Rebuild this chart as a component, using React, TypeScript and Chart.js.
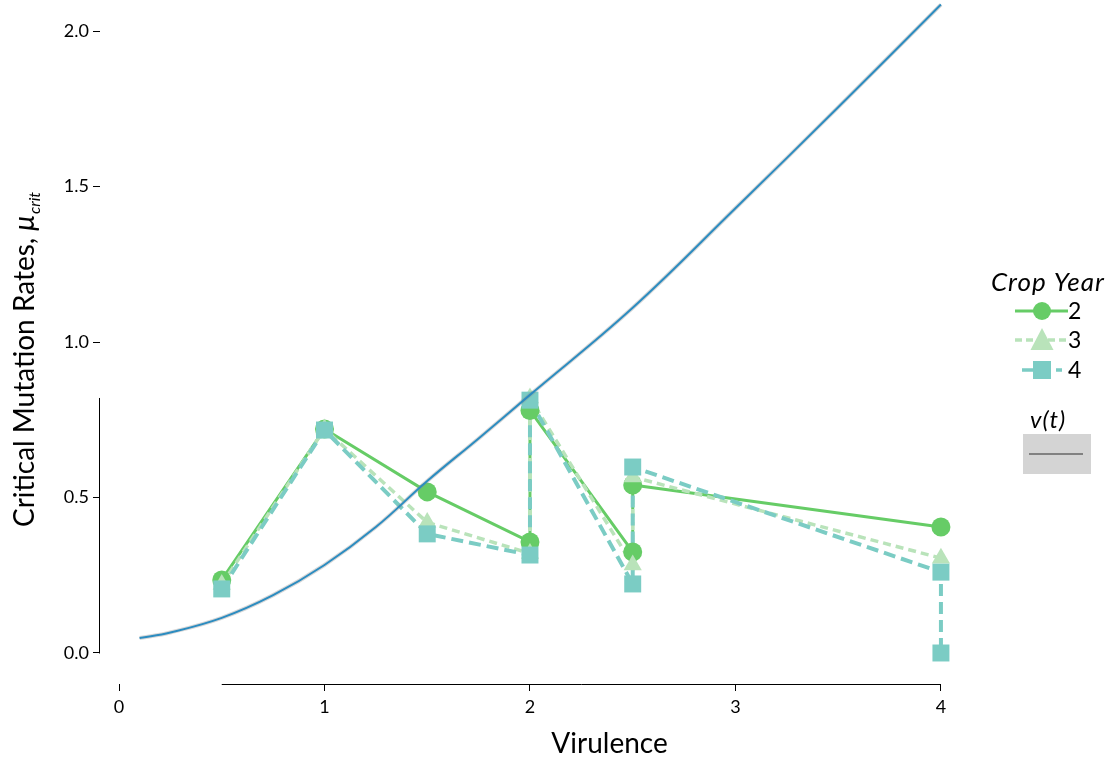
import React, { useEffect, useRef } from "react";
import { Chart, registerables } from "chart.js";

Chart.register(...registerables);

const FONT = "Lato, 'Open Sans', 'DejaVu Sans', sans-serif";

// ---- tick labels ----
const xTickValues = [0, 1, 2, 3, 4];
const xTickLabels = ["0", "1", "2", "3", "4"];
const yTickValues = [0, 0.5, 1, 1.5, 2];
const yTickLabels = ["0.0", "0.5", "1.0", "1.5", "2.0"];

// ---- series: crop years ----
const year2X = [0.5, 1, 1.5, 2, 2, 2.5, 2.5, 4];
const year2Y = [0.235, 0.72, 0.518, 0.357, 0.78, 0.325, 0.54, 0.405];
const year3X = [0.5, 1, 1.5, 2, 2, 2.5, 2.5, 4];
const year3Y = [0.22, 0.72, 0.42, 0.32, 0.82, 0.283, 0.566, 0.305];
const year4X = [0.5, 1, 1.5, 2, 2, 2.5, 2.5, 4, 4];
const year4Y = [0.206, 0.717, 0.383, 0.315, 0.813, 0.222, 0.598, 0.26, 0.0];

// ---- series: v(t) curve ----
const curveX = [0.1, 0.25, 0.5, 0.75, 1.0, 1.25, 1.5, 1.75, 2.0, 2.5, 3.0, 3.5, 4.0];
const curveY = [0.048, 0.066, 0.113, 0.186, 0.283, 0.405, 0.553, 0.69, 0.83, 1.11, 1.43, 1.755, 2.085];

// ---- texts ----
const legendYears = ["2", "3", "4"];
const legendTitle = "Crop Year";
const curveTitle = "v(t)";
const xTitle = "Virulence";
const yTitleMain = "Critical Mutation Rates, ";
const yTitleSymbol = "μ";
const yTitleSub = "crit";

const C2 = "#66cc66";
const C3 = "#b9e3ba";
const C4 = "#7bccc4";
const CURVE = "#2c8cc0";

const pts = (xs: number[], ys: number[]) => xs.map((x, i) => ({ x, y: ys[i] }));

const allX = [...year2X, ...year3X, ...year4X];
const allY = [...year2Y, ...year3Y, ...year4Y];

const overlayPlugin = {
  id: "overlay",
  afterDraw(chart: any) {
    const { ctx, scales } = chart;
    const xs = scales.x;
    const ys = scales.y;
    ctx.save();
    // range-frame axes
    ctx.strokeStyle = "#000";
    ctx.lineWidth = 1;
    ctx.setLineDash([]);
    const axX = Math.round(chart.chartArea.left) - 0.5;
    ctx.beginPath();
    ctx.moveTo(axX, ys.getPixelForValue(Math.max(...allY)));
    ctx.lineTo(axX, ys.getPixelForValue(Math.min(...allY)) + 0.5);
    ctx.stroke();
    const axY = Math.round(chart.chartArea.bottom) + 0.5;
    ctx.beginPath();
    ctx.moveTo(xs.getPixelForValue(Math.min(...allX)), axY);
    ctx.lineTo(xs.getPixelForValue(Math.max(...allX)), axY);
    ctx.stroke();

    // x title
    ctx.fillStyle = "#000";
    ctx.font = `28px ${FONT}`;
    ctx.textAlign = "center";
    ctx.textBaseline = "alphabetic";
    ctx.fillText(xTitle, 609.5, 753);

    // y title (rotated)
    ctx.save();
    ctx.translate(34, 360);
    ctx.rotate(-Math.PI / 2);
    ctx.textAlign = "left";
    ctx.font = `28px ${FONT}`;
    const wMain = ctx.measureText(yTitleMain).width;
    ctx.font = `italic 28px ${FONT}`;
    const wSym = ctx.measureText(yTitleSymbol).width;
    ctx.font = `italic 16px ${FONT}`;
    const wSub = ctx.measureText(yTitleSub).width;
    const start = -(wMain + wSym + wSub) / 2;
    ctx.font = `28px ${FONT}`;
    ctx.fillText(yTitleMain, start, 0);
    ctx.font = `italic 28px ${FONT}`;
    ctx.fillText(yTitleSymbol, start + wMain, 0);
    ctx.font = `italic 16px ${FONT}`;
    ctx.fillText(yTitleSub, start + wMain + wSym + 1, 6);
    ctx.restore();

    // legend: Crop Year
    ctx.font = `italic 26px ${FONT}`;
    (ctx as any).letterSpacing = "1px";
    ctx.textAlign = "left";
    ctx.fillText(legendTitle, 991, 291);
    (ctx as any).letterSpacing = "0px";
    const rows = [311, 340, 370];
    const colors = [C2, C3, C4];
    const dashes: number[][] = [[], [7, 4], [12, 5]];
    rows.forEach((cy, i) => {
      ctx.strokeStyle = colors[i];
      ctx.lineWidth = i === 0 ? 3 : 3.5;
      ctx.setLineDash(dashes[i]);
      ctx.beginPath();
      if (i === 2) {
        ctx.moveTo(1022, cy);
        ctx.lineTo(1062, cy);
      } else {
        ctx.moveTo(1015, cy);
        ctx.lineTo(1068, cy);
      }
      ctx.stroke();
      ctx.setLineDash([]);
      ctx.fillStyle = colors[i];
      const mx = 1042;
      ctx.beginPath();
      if (i === 0) {
        ctx.arc(mx, cy, 9, 0, Math.PI * 2);
      } else if (i === 1) {
        ctx.moveTo(mx, cy - 12);
        ctx.lineTo(mx + 11.5, cy + 10);
        ctx.lineTo(mx - 11.5, cy + 10);
        ctx.closePath();
      } else {
        ctx.rect(mx - 9, cy - 9, 18, 18);
      }
      ctx.fill();
      ctx.fillStyle = "#000";
      ctx.font = `23px ${FONT}`;
      ctx.textBaseline = "middle";
      ctx.fillText(legendYears[i], 1068, cy + 1);
      ctx.textBaseline = "alphabetic";
    });

    // legend: v(t)
    ctx.font = `italic 24px ${FONT}`;
    (ctx as any).letterSpacing = "1px";
    ctx.fillStyle = "#000";
    ctx.fillText(curveTitle, 1030, 428);
    (ctx as any).letterSpacing = "0px";
    ctx.fillStyle = "#d4d4d4";
    ctx.fillRect(1023, 434, 68, 40);
    ctx.strokeStyle = "#666666";
    ctx.lineWidth = 1.5;
    ctx.beginPath();
    ctx.moveTo(1029, 454);
    ctx.lineTo(1083, 454);
    ctx.stroke();
    ctx.restore();
  },
};

export default function App() {
  const ref = useRef<HTMLCanvasElement>(null);
  useEffect(() => {
    const tickFont = { family: FONT, size: 18 };
    const chart = new Chart(ref.current as HTMLCanvasElement, {
      type: "scatter",
      data: {
        datasets: [
          {
            label: "v(t)",
            data: pts(curveX, curveY),
            showLine: true,
            borderColor: CURVE,
            borderWidth: 2,
            pointRadius: 0,
            tension: 0.4,
            order: 0,
          },
          {
            label: "v(t) ribbon",
            data: pts(curveX, curveY),
            showLine: true,
            borderColor: "rgba(140,140,140,0.35)",
            borderWidth: 4,
            pointRadius: 0,
            tension: 0.4,
            order: 1,
          },
          {
            label: "4 points",
            data: pts(year4X, year4Y),
            showLine: false,
            pointStyle: "rect",
            pointRadius: 12,
            pointBackgroundColor: C4,
            pointBorderWidth: 0,
            order: 2,
          },
          {
            label: "3 points",
            data: pts(year3X, year3Y),
            showLine: false,
            pointStyle: "triangle",
            pointRadius: 10.5,
            pointBackgroundColor: C3,
            pointBorderWidth: 0,
            order: 3,
          },
          {
            label: "2 points",
            data: pts(year2X, year2Y),
            showLine: false,
            pointStyle: "circle",
            pointRadius: 9.5,
            pointBackgroundColor: C2,
            pointBorderWidth: 0,
            order: 4,
          },
          {
            label: "4",
            data: pts(year4X, year4Y),
            showLine: true,
            borderColor: C4,
            borderWidth: 4,
            borderDash: [12, 6],
            pointRadius: 0,
            order: 5,
          },
          {
            label: "3",
            data: pts(year3X, year3Y),
            showLine: true,
            borderColor: C3,
            borderWidth: 3.5,
            borderDash: [8, 5],
            pointRadius: 0,
            order: 6,
          },
          {
            label: "2",
            data: pts(year2X, year2Y),
            showLine: true,
            borderColor: C2,
            borderWidth: 3,
            pointRadius: 0,
            order: 7,
          },
        ],
      } as any,
      options: {
        responsive: false,
        animation: false,
        layout: { autoPadding: false, padding: { left: 0, right: 131, top: 0, bottom: 0 } },
        plugins: { legend: { display: false }, tooltip: { enabled: false } },
        scales: {
          x: {
            type: "linear",
            min: -0.0925,
            max: 4.195,
            afterBuildTicks: (s: any) => {
              s.ticks = xTickValues.map((v) => ({ value: v }));
            },
            afterFit: (s: any) => {
              s.height = 75;
              s.paddingLeft = 0;
              s.paddingRight = 0;
            },
            ticks: {
              autoSkip: false,
              maxRotation: 0,
              padding: 5,
              color: "#000",
              font: tickFont,
              callback: (v: any) => xTickLabels[xTickValues.indexOf(Number(v))],
            },
            grid: {
              display: true,
              drawOnChartArea: false,
              drawTicks: true,
              tickLength: 7,
              tickColor: "#000",
              tickWidth: 1,
            },
            border: { display: false },
          },
          y: {
            type: "linear",
            min: -0.0997,
            max: 2.0997,
            afterBuildTicks: (s: any) => {
              s.ticks = yTickValues.map((v) => ({ value: v }));
            },
            afterFit: (s: any) => {
              s.width = 100;
              s.paddingTop = 0;
              s.paddingBottom = 0;
            },
            ticks: {
              autoSkip: false,
              padding: 4,
              color: "#000",
              font: tickFont,
              callback: (v: any) => yTickLabels[yTickValues.indexOf(Number(v))],
            },
            grid: {
              display: true,
              drawOnChartArea: false,
              drawTicks: true,
              tickLength: 7,
              tickColor: "#000",
              tickWidth: 1,
            },
            border: { display: false },
          },
        },
      } as any,
      plugins: [overlayPlugin],
    });
    return () => chart.destroy();
  }, []);
  return (
    <div style={{ position: "fixed", left: 0, top: 0, width: 1112, height: 759, background: "#fff" }}>
      <canvas ref={ref} width={1112} height={759} style={{ display: "block", width: 1112, height: 759 }} />
    </div>
  );
}
